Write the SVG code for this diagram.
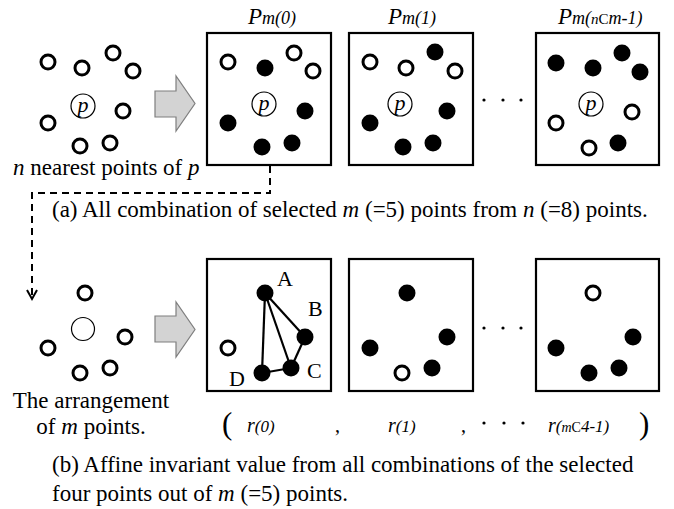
<svg xmlns="http://www.w3.org/2000/svg" width="674" height="509" viewBox="0 0 674 509">
<defs>
<style>
.o{fill:#fff;stroke:#000;stroke-width:3}
.f{fill:#000}
.pc{fill:#fff;stroke:#000;stroke-width:1.2}
.box{fill:#fff;stroke:#000;stroke-width:2.2}
.t{font-family:"Liberation Serif","Times New Roman",serif;font-size:23px;fill:#000}
.big{font-size:31px}
.lbl{font-size:22px}
.cm{font-size:20px}
.i{font-style:italic}
.pl{font-family:"Liberation Serif","Times New Roman",serif;font-size:22px;font-style:italic;text-anchor:middle}
.arw{fill:#d3d3d3;stroke:#7f7f7f;stroke-width:1.2}
.dash{fill:none;stroke:#000;stroke-width:2;stroke-dasharray:7 5}
.edge{stroke:#000;stroke-width:2.2}
.dot{fill:#000}
</style>
</defs>
<rect width="674" height="509" fill="#fff"/>

<g id="connectors">
<path class="dash" d="M270,166 V193 H32 V298"/>
<path d="M27,290 L32,299 L37,290" fill="none" stroke="#000" stroke-width="2"/>
</g>

<g id="nearest-points">
<circle class="o" cx="48" cy="62" r="7"/>
<circle class="o" cx="82" cy="68" r="7"/>
<circle class="o" cx="113" cy="53" r="7"/>
<circle class="o" cx="133" cy="71" r="7"/>
<circle class="o" cx="123" cy="111" r="7"/>
<circle class="o" cx="48" cy="123" r="7"/>
<circle class="o" cx="80" cy="146" r="7"/>
<circle class="o" cx="110" cy="143" r="7"/>
<circle class="pc" cx="83" cy="106" r="12"/>
<text class="pl" x="83" y="112">p</text>
<text class="t" x="13" y="175"><tspan class="i">n</tspan> nearest points of <tspan class="i">p</tspan></text>
</g>

<g id="arrow-top">
<path class="arw" d="M155,91 H176 V76 L195,103.5 L176,131 V117 H155 Z"/>
</g>

<g id="pm0">
<text class="t" x="248" y="24"><tspan class="i" font-size="23">P</tspan><tspan class="i" font-size="18">m(0)</tspan></text>
<rect class="box" x="207" y="33" width="124" height="132"/>
<circle class="o" cx="228" cy="62" r="7"/>
<circle class="f" cx="265" cy="68" r="8.5"/>
<circle class="o" cx="294" cy="53" r="7"/>
<circle class="o" cx="313" cy="71" r="7"/>
<circle class="f" cx="305" cy="111" r="8.5"/>
<circle class="f" cx="228" cy="123" r="8.5"/>
<circle class="f" cx="262" cy="147" r="8.5"/>
<circle class="f" cx="292" cy="143" r="8.5"/>
<circle class="pc" cx="264" cy="104" r="12"/>
<text class="pl" x="264" y="110">p</text>
</g>

<g id="pm1">
<text class="t" x="388" y="24"><tspan class="i" font-size="23">P</tspan><tspan class="i" font-size="18">m(1)</tspan></text>
<rect class="box" x="349" y="33" width="124" height="132"/>
<circle class="o" cx="370" cy="62" r="7"/>
<circle class="o" cx="406" cy="68" r="7"/>
<circle class="f" cx="435" cy="52" r="8.5"/>
<circle class="o" cx="455" cy="71" r="7"/>
<circle class="f" cx="447" cy="111" r="8.5"/>
<circle class="f" cx="370" cy="123" r="8.5"/>
<circle class="f" cx="403" cy="147" r="8.5"/>
<circle class="f" cx="433" cy="143" r="8.5"/>
<circle class="pc" cx="400" cy="104" r="12"/>
<text class="pl" x="400" y="110">p</text>
</g>

<g id="dots-top">
<circle class="dot" cx="484" cy="100" r="1.6"/>
<circle class="dot" cx="503" cy="100" r="1.6"/>
<circle class="dot" cx="521" cy="100" r="1.6"/>
</g>

<g id="pmlast">
<text class="t" x="558" y="24"><tspan class="i" font-size="23">P</tspan><tspan class="i" font-size="18">m(</tspan><tspan class="i" font-size="15">n</tspan><tspan font-size="15">C</tspan><tspan class="i" font-size="18">m-1)</tspan></text>
<rect class="box" x="536" y="33" width="123" height="132"/>
<circle class="f" cx="556" cy="63" r="8.5"/>
<circle class="f" cx="593" cy="68" r="8.5"/>
<circle class="f" cx="622" cy="53" r="8.5"/>
<circle class="f" cx="640" cy="72" r="8.5"/>
<circle class="o" cx="632" cy="112" r="7"/>
<circle class="o" cx="556" cy="123" r="7"/>
<circle class="o" cx="589" cy="148" r="7"/>
<circle class="f" cx="618" cy="143" r="8.5"/>
<circle class="pc" cx="591" cy="104" r="12"/>
<text class="pl" x="591" y="110">p</text>
</g>

<g id="caption-a">
<text class="t" x="52" y="217">(a) All combination of selected <tspan class="i">m</tspan> (=5) points from <tspan class="i">n</tspan> (=8) points.</text>
</g>

<g id="arrangement">
<circle class="o" cx="85" cy="293" r="7"/>
<circle class="o" cx="125" cy="337" r="7"/>
<circle class="o" cx="48" cy="348" r="7"/>
<circle class="o" cx="80" cy="373" r="7"/>
<circle class="o" cx="110" cy="368" r="7"/>
<circle class="pc" cx="83" cy="329" r="11.5"/>
<text class="t" x="91" y="408" text-anchor="middle">The arrangement</text>
<text class="t" x="91" y="434" text-anchor="middle">of <tspan class="i">m</tspan> points.</text>
</g>

<g id="arrow-bottom">
<path class="arw" d="M155,316 H176 V302 L195,329.5 L176,357 V342 H155 Z"/>
</g>

<g id="r0">
<rect class="box" x="207" y="259" width="124" height="132"/>
<line class="edge" x1="265" y1="293" x2="262" y2="373"/>
<line class="edge" x1="265" y1="293" x2="291" y2="368"/>
<line class="edge" x1="265" y1="293" x2="305" y2="337"/>
<line class="edge" x1="305" y1="337" x2="291" y2="368"/>
<line class="edge" x1="291" y1="368" x2="262" y2="373"/>
<circle class="f" cx="265" cy="293" r="8.5"/>
<circle class="f" cx="305" cy="337" r="8.5"/>
<circle class="f" cx="291" cy="368" r="8.5"/>
<circle class="f" cx="262" cy="373" r="8.5"/>
<circle class="o" cx="228" cy="348" r="7"/>
<text class="t lbl" x="277" y="286">A</text>
<text class="t lbl" x="308" y="316">B</text>
<text class="t lbl" x="307" y="378">C</text>
<text class="t lbl" x="229" y="386">D</text>
</g>

<g id="r1">
<rect class="box" x="349" y="259" width="124" height="132"/>
<circle class="f" cx="407" cy="293" r="8.5"/>
<circle class="f" cx="370" cy="348" r="8.5"/>
<circle class="o" cx="402" cy="373" r="7"/>
<circle class="f" cx="432" cy="368" r="8.5"/>
<circle class="f" cx="447" cy="337" r="8.5"/>
</g>

<g id="dots-bottom">
<circle class="dot" cx="484" cy="328" r="1.6"/>
<circle class="dot" cx="503" cy="328" r="1.6"/>
<circle class="dot" cx="521" cy="328" r="1.6"/>
</g>

<g id="rlast">
<rect class="box" x="536" y="259" width="123" height="132"/>
<circle class="o" cx="593" cy="293" r="7"/>
<circle class="f" cx="556" cy="348" r="8.5"/>
<circle class="f" cx="589" cy="373" r="8.5"/>
<circle class="f" cx="619" cy="368" r="8.5"/>
<circle class="f" cx="633" cy="337" r="8.5"/>
</g>

<g id="r-vector">
<text class="t big" x="222" y="434">(</text>
<text class="t" x="247" y="432"><tspan class="i" font-size="20">r</tspan><tspan class="i" font-size="17">(0)</tspan></text>
<text class="t cm" x="335" y="432">,</text>
<text class="t" x="388" y="432"><tspan class="i" font-size="20">r</tspan><tspan class="i" font-size="17">(1)</tspan></text>
<text class="t cm" x="461" y="432">,</text>
<circle class="dot" cx="484" cy="423" r="1.6"/>
<circle class="dot" cx="504" cy="423" r="1.6"/>
<circle class="dot" cx="523" cy="423" r="1.6"/>
<text class="t" x="548" y="432"><tspan class="i" font-size="20">r</tspan><tspan class="i" font-size="17">(</tspan><tspan class="i" font-size="14">m</tspan><tspan font-size="14">C</tspan><tspan class="i" font-size="17">4-1)</tspan></text>
<text class="t big" x="639" y="434">)</text>
</g>

<g id="caption-b">
<text class="t" x="52" y="472">(b) Affine invariant value from all combinations of the selected</text>
<text class="t" x="52" y="501">four points out of <tspan class="i">m</tspan> (=5) points.</text>
</g>
</svg>
